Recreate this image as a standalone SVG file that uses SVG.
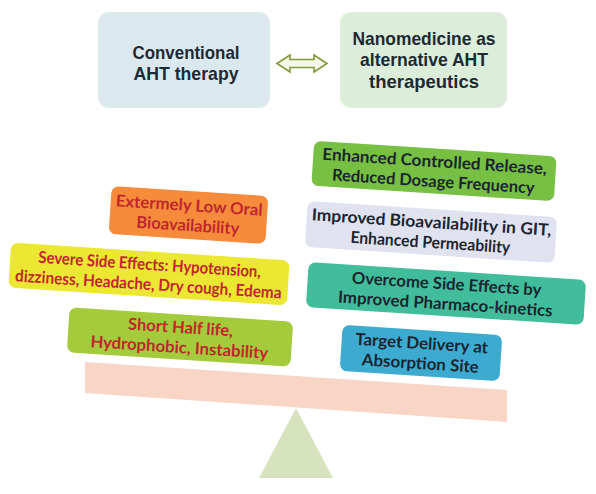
<svg xmlns="http://www.w3.org/2000/svg" width="596" height="494" viewBox="0 0 596 494">
<style>
.top{font-family:"Liberation Sans",Arial,sans-serif;font-weight:bold;font-size:18.5px;fill:#1e2a33;text-anchor:middle}
.lt{font-family:Lato,"Liberation Sans",sans-serif;font-weight:bold;font-size:16.5px;fill:#c0272d;text-anchor:middle}
.rt{font-family:Lato,"Liberation Sans",sans-serif;font-weight:bold;font-size:16.5px;fill:#1b2530;text-anchor:middle}
</style>
<rect width="596" height="494" fill="#ffffff"/>
<g id="conventional">
<rect x="98" y="12" width="172" height="96" rx="11" fill="#dbe8ee"/>
<text class="top" x="186" y="58.5" textLength="107" lengthAdjust="spacingAndGlyphs">Conventional</text>
<text class="top" x="186" y="79.5" textLength="105" lengthAdjust="spacingAndGlyphs">AHT therapy</text>
</g>
<g id="nanomedicine">
<rect x="340" y="12" width="167" height="96" rx="11" fill="#dcedda"/>
<text class="top" x="424" y="44.5" textLength="143" lengthAdjust="spacingAndGlyphs">Nanomedicine as</text>
<text class="top" x="424" y="66" textLength="128" lengthAdjust="spacingAndGlyphs">alternative AHT</text>
<text class="top" x="424" y="87.5" textLength="110" lengthAdjust="spacingAndGlyphs">therapeutics</text>
</g>
<g id="connectors">
<path d="M277,63.5 L290,55 L290,59.5 L314,59.5 L314,55 L327,63.5 L314,72 L314,67.5 L290,67.5 L290,72 Z" fill="#f5f8e8" stroke="#7f9a3a" stroke-width="1.6" stroke-linejoin="miter"/>
</g>
<g id="beam">
<polygon points="85,362 507,390 507,422 85,393" fill="#f9d5c6"/>
</g>
<g id="fulcrum">
<polygon points="296,408 333,478 259,478" fill="#d7e3bf"/>
</g>
<g id="low-bioavailability" transform="translate(188.5,215) rotate(3.7)">
<rect x="-78.5" y="-24" width="157" height="48" rx="7" fill="#f68b3b"/>
<text class="lt" x="0" y="-4" textLength="147" lengthAdjust="spacingAndGlyphs">Extermely Low Oral</text>
<text class="lt" x="0" y="16" textLength="103" lengthAdjust="spacingAndGlyphs">Bioavailability</text>
</g>
<g id="side-effects" transform="translate(149,274) rotate(3.7)">
<rect x="-139.5" y="-22.5" width="279" height="45" rx="7" fill="#ece733"/>
<text class="lt" x="0" y="-4" textLength="223" lengthAdjust="spacingAndGlyphs">Severe Side Effects: Hypotension,</text>
<text class="lt" x="0" y="16" textLength="267" lengthAdjust="spacingAndGlyphs">dizziness, Headache,  Dry cough, Edema</text>
</g>
<g id="half-life" transform="translate(180,337) rotate(3.7)">
<rect x="-112" y="-22.5" width="224" height="45" rx="7" fill="#a3cb3b"/>
<text class="lt" x="0" y="-4" textLength="105" lengthAdjust="spacingAndGlyphs">Short Half life,</text>
<text class="lt" x="0" y="16" textLength="178" lengthAdjust="spacingAndGlyphs">Hydrophobic, Instability</text>
</g>
<g id="controlled-release" transform="translate(434,171) rotate(3.7)">
<rect x="-121.5" y="-22.5" width="243" height="45" rx="7" fill="#77c043"/>
<text class="rt" x="0" y="-4" textLength="225" lengthAdjust="spacingAndGlyphs">Enhanced Controlled Release,</text>
<text class="rt" x="0" y="16" textLength="203" lengthAdjust="spacingAndGlyphs">Reduced Dosage Frequency</text>
</g>
<g id="improved-bioavailability" transform="translate(431,232) rotate(3.7)">
<rect x="-125" y="-23" width="250" height="46" rx="7" fill="#e1e2ef"/>
<text class="rt" x="0" y="-4" textLength="240" lengthAdjust="spacingAndGlyphs">Improved Bioavailability in GIT,</text>
<text class="rt" x="0" y="16" textLength="160" lengthAdjust="spacingAndGlyphs">Enhanced Permeability</text>
</g>
<g id="overcome-side-effects" transform="translate(446,293.5) rotate(3.7)">
<rect x="-139" y="-22.5" width="278" height="45" rx="7" fill="#42bd9b"/>
<text class="rt" x="0" y="-4" textLength="190" lengthAdjust="spacingAndGlyphs">Overcome Side Effects by</text>
<text class="rt" x="0" y="16" textLength="215" lengthAdjust="spacingAndGlyphs">Improved Pharmaco-kinetics</text>
</g>
<g id="target-delivery" transform="translate(421,353) rotate(3.7)">
<rect x="-80" y="-23" width="160" height="46" rx="7" fill="#3dabd0"/>
<text class="rt" x="0" y="-4" textLength="133" lengthAdjust="spacingAndGlyphs">Target Delivery at</text>
<text class="rt" x="0" y="16" textLength="117" lengthAdjust="spacingAndGlyphs">Absorption Site</text>
</g>
</svg>
